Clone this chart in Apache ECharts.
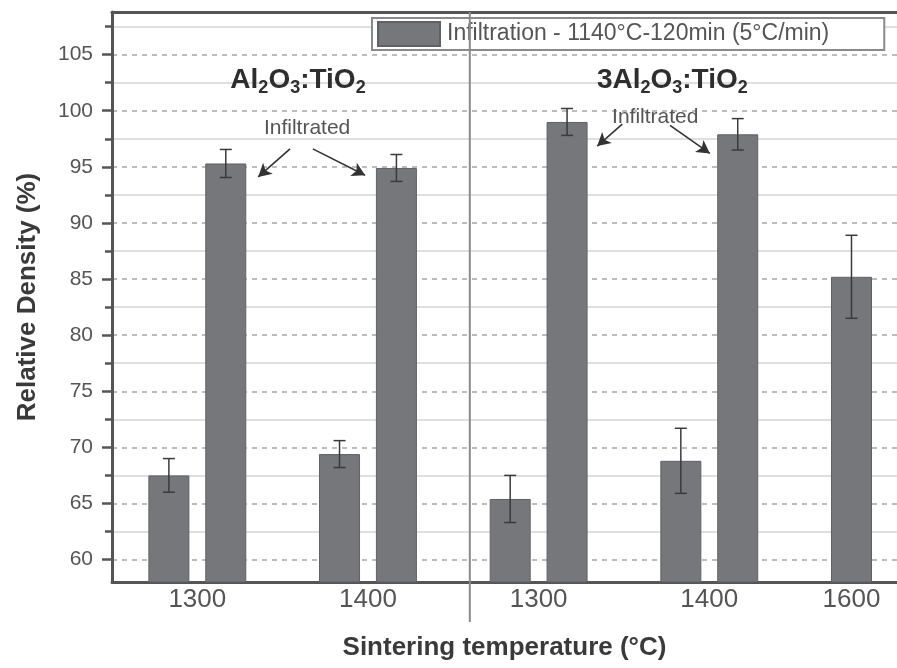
<!DOCTYPE html>
<html>
<head>
<meta charset="utf-8">
<script src="https://cdn.jsdelivr.net/npm/echarts@6/dist/echarts.min.js"></script>
<style>
html,body{margin:0;padding:0;background:#fff;}
#chart{width:897px;height:668px;}
</style>
</head>
<body>
<div id="chart"></div>
<script>
// ---- data ----
const tickLabels = ['1300', '1400', '1300', '1400', '1600'];
const tickPositions = [0.5, 3.5, 6.5, 9.5, 12];
const barPositions = [0, 1, 3, 4, 6, 7, 9, 10, 12];
const density = [67.5, 95.3, 69.4, 94.9, 65.4, 99.0, 68.8, 97.9, 85.2];
const densityError = [1.5, 1.25, 1.2, 1.2, 2.1, 1.2, 2.9, 1.4, 3.7];
const yMajorTicks = [60, 65, 70, 75, 80, 85, 90, 95, 100, 105];
const yMinorTicks = [62.5, 67.5, 72.5, 77.5, 82.5, 87.5, 92.5, 97.5, 102.5, 107.5];
const seriesName = 'Infiltration - 1140°C-120min (5°C/min)';
const groupLabels = [
  {x: 2.27, y: 102.6, parts: ['Al', '2', 'O', '3', ':TiO', '2']},
  {x: 8.85, y: 102.6, parts: ['3Al', '2', 'O', '3', ':TiO', '2']}
];
const noteLabels = [
  {x: 2.43, y: 98.4, text: 'Infiltrated'},
  {x: 8.55, y: 99.45, text: 'Infiltrated'}
];
const arrows = [
  [[2.13, 96.6], [1.57, 94.1]],
  [[2.53, 96.6], [3.45, 94.25]],
  [[7.97, 98.8], [7.53, 96.85]],
  [[8.81, 98.7], [9.51, 96.2]]
];
const separatorX = 5.29;

// ---- chart ----
const chart = echarts.init(document.getElementById('chart'), null, {renderer: 'canvas'});
const axisColor = '#555';
const barData = barPositions.map((x, i) => [x, density[i]]);
const errData = barPositions.map((x, i) => [x, density[i] - densityError[i], density[i] + densityError[i]]);

const option = {
  animation: false,
  backgroundColor: '#fff',
  grid: {left: 112, right: 0, top: 12, bottom: 86, containLabel: false, outerBoundsMode: 'none'},
  legend: {
    data: [{name: seriesName, icon: 'rect'}],
    left: 372, top: 18,
    itemWidth: 62, itemHeight: 24, itemGap: 8,
    padding: [3, 55, 3, 5],
    borderColor: '#8a8a8a', borderWidth: 2,
    backgroundColor: '#fff',
    textStyle: {fontFamily: 'Liberation Sans, Arial', fontSize: 23, color: '#555', padding: [0, 0, 0, 2]}
  },
  xAxis: [{
    type: 'value', min: -1, max: 12.8,
    name: 'Sintering temperature (°C)', nameLocation: 'middle', nameGap: 53,
    nameTextStyle: {fontFamily: 'Liberation Sans, Arial', fontSize: 26, fontWeight: 'bold', color: '#3a3a3a'},
    axisLine: {show: true, onZero: false, lineStyle: {color: axisColor, width: 3}},
    axisTick: {show: false},
    splitLine: {show: false},
    axisLabel: {
      customValues: tickPositions,
      formatter: v => { const i = tickPositions.indexOf(v); return i >= 0 ? tickLabels[i] : ''; },
      fontFamily: 'Liberation Sans, Arial', fontSize: 26, color: '#555', margin: 5
    }
  }, {
    type: 'value', min: -1, max: 12.8, position: 'top',
    axisLine: {show: true, onZero: false, lineStyle: {color: axisColor, width: 3}},
    axisTick: {show: false}, axisLabel: {show: false}, splitLine: {show: false}
  }],
  yAxis: [{
    type: 'value', min: 58, max: 108.8,
    name: 'Relative Density (%)', nameLocation: 'middle', nameGap: 71,
    nameTextStyle: {fontFamily: 'Liberation Sans, Arial', fontSize: 26, fontWeight: 'bold', color: '#3a3a3a'},
    axisLine: {show: true, onZero: false, lineStyle: {color: axisColor, width: 3}},
    axisTick: {show: true, customValues: yMajorTicks, length: 10, inside: false, lineStyle: {color: axisColor, width: 2.5}},
    axisLabel: {customValues: yMajorTicks, fontFamily: 'Liberation Sans, Arial', fontSize: 21, color: '#555', margin: 19},
    splitLine: {show: true, lineStyle: {color: '#a8a8a8', width: 1.5, type: [5, 5]}}
  }, {
    type: 'value', min: 58, max: 108.8, position: 'left',
    axisLine: {show: false, onZero: false},
    axisTick: {show: true, customValues: yMinorTicks, length: 7, lineStyle: {color: axisColor, width: 2.5}},
    axisLabel: {show: false},
    splitLine: {show: true, lineStyle: {color: '#d4d4d4', width: 1.5, type: 'solid'}}
  }],
  series: [{
    name: seriesName,
    type: 'bar',
    xAxisIndex: 0, yAxisIndex: 0,
    barWidth: 41,
    data: barData,
    itemStyle: {color: '#76777b', borderColor: '#606165', borderWidth: 1},
    z: 3,
    markLine: {
      silent: true, symbol: ['none', 'arrow'], symbolSize: [11, 13],
      label: {show: false},
      lineStyle: {color: '#333', width: 1.6, type: 'solid'},
      data: arrows.map(a => [{coord: a[0], symbol: 'none'}, {coord: a[1], symbol: 'arrow'}])
    }
  }, {
    type: 'custom',
    xAxisIndex: 0, yAxisIndex: 0,
    data: errData,
    z: 4,
    renderItem: function (params, api) {
      const x = api.value(0);
      const lo = api.coord([x, api.value(1)]);
      const hi = api.coord([x, api.value(2)]);
      const hw = 6;
      const style = {stroke: '#3a3a3a', lineWidth: 1.5, fill: null};
      return {
        type: 'group',
        children: [
          {type: 'line', shape: {x1: lo[0], y1: lo[1], x2: hi[0], y2: hi[1]}, style: style},
          {type: 'line', shape: {x1: hi[0] - hw, y1: hi[1], x2: hi[0] + hw, y2: hi[1]}, style: style},
          {type: 'line', shape: {x1: lo[0] - hw, y1: lo[1], x2: lo[0] + hw, y2: lo[1]}, style: style}
        ]
      };
    }
  }]
};
chart.setOption(option);

// annotations anchored to data coordinates
function px(x, y) { return chart.convertToPixel({xAxisIndex: 0, yAxisIndex: 0}, [x, y]); }
const graphics = [];
groupLabels.forEach(g => {
  const p = px(g.x, g.y);
  const p0 = g.parts;
  graphics.push({
    type: 'text', x: p[0], y: p[1], z: 10,
    style: {
      text: `{m|${p0[0]}}{s|${p0[1]}}{m|${p0[2]}}{s|${p0[3]}}{m|${p0[4]}}{s|${p0[5]}}`,
      align: 'center', verticalAlign: 'middle',
      rich: {
        m: {fontFamily: 'Liberation Sans, Arial', fontSize: 28, fontWeight: 'bold', fill: '#2e2e2e', verticalAlign: 'top', lineHeight: 30},
        s: {fontFamily: 'Liberation Sans, Arial', fontSize: 18, fontWeight: 'bold', fill: '#2e2e2e', verticalAlign: 'bottom', lineHeight: 30, padding: [14, 0, 0, 0]}
      }
    }
  });
});
noteLabels.forEach(n => {
  const p = px(n.x, n.y);
  graphics.push({
    type: 'text', x: p[0], y: p[1], z: 10,
    style: {text: n.text, align: 'center', verticalAlign: 'middle',
      fontFamily: 'Liberation Sans, Arial', fontSize: 21, fill: '#555'}
  });
});
const sepTop = px(separatorX, 108.8);
graphics.push({
  type: 'line', z: 5,
  shape: {x1: sepTop[0], y1: sepTop[1], x2: sepTop[0], y2: 622},
  style: {stroke: '#8a8a8a', lineWidth: 2}
});
chart.setOption({graphic: graphics});
</script>
</body>
</html>
